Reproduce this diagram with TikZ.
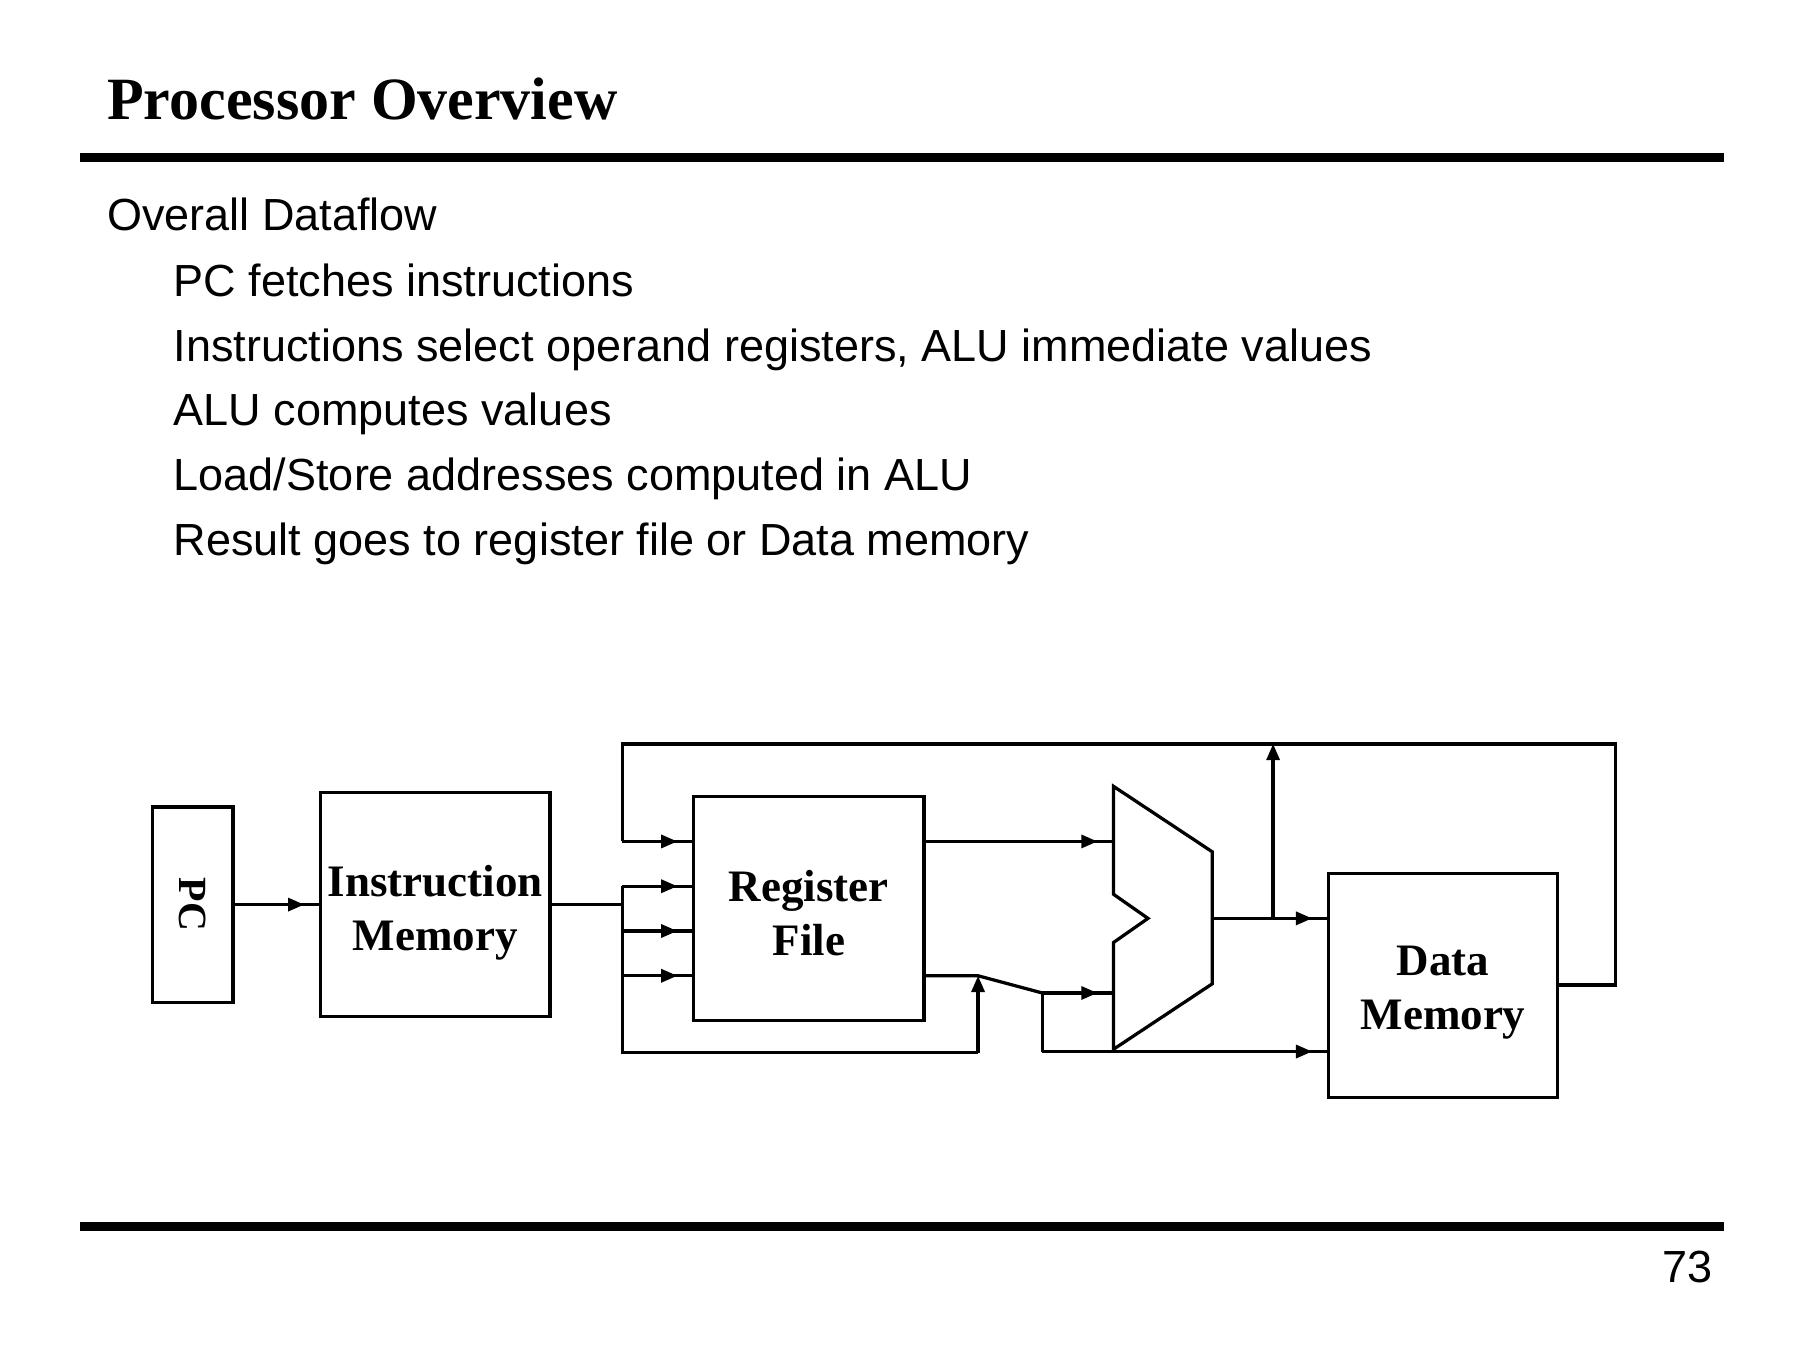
\documentclass[tikz,border=0pt]{standalone}
\usepackage{fontspec}
\setmainfont{Liberation Serif}
\newfontfamily\sansf{Liberation Sans}
\usetikzlibrary{arrows.meta,decorations.markings}
\def\U{0.4592bp}
\tikzset{
  wire/.style={line width=1.3bp, line join=miter},
  box/.style={draw, line width=1.3bp, inner sep=0pt, outer sep=0pt, align=center,
    font=\bfseries\fontsize{18.07}{21.7}\selectfont},
  endarrow/.style={wire, -{Triangle[length=6.5bp,width=5.2bp]}},
  tipped/.style={wire, postaction={decorate}, decoration={markings,
    mark=at position -6.4bp with {\arrow{Triangle[length=6.5bp,width=5.2bp]}}}},
  rule/.style={line width=3.7bp},
  bodytext/.style={anchor=base west, inner sep=0pt, font=\sansf\fontsize{18.07}{21.7}\selectfont},
}
\begin{document}
\begin{tikzpicture}[x=0.4592bp, y=-0.4592bp]
\useasboundingbox (0,0) rectangle (1568,1176);
% header
\node[anchor=base west, inner sep=0pt, font=\bfseries\fontsize{24.09}{28}\selectfont] (title) at (93,104) {Processor Overview};
\draw[rule] (70,137.5) -- (1502,137.5);
\node[bodytext] (l0) at (93,201) {Overall Dataflow};
\node[bodytext] (l1) at (151,258) {PC fetches instructions};
\node[bodytext] (l2) at (151,314.5) {Instructions select operand registers, ALU immediate values};
\node[bodytext] (l3) at (151,371) {ALU computes values};
\node[bodytext] (l4) at (151,427.5) {Load/Store addresses computed in ALU};
\node[bodytext] (l5) at (151,484) {Result goes to register file or Data memory};
\draw[rule] (70,1068.5) -- (1502,1068.5);
\node[anchor=base east, inner sep=0pt, font=\sansf\fontsize{18.07}{21.7}\selectfont] (pg) at (1492,1117) {73};
% boxes
\node[box, minimum width=70*\U, minimum height=170*\U] (pc) at (168,788) {};
\node[rotate=-90, inner sep=0pt, font=\bfseries\fontsize{16.06}{19}\selectfont] (pct) at (168,788) {PC};
\node[box, minimum width=200*\U, minimum height=195*\U] (im) at (379,788) {};
\node[box, draw=none] (imt) at (379,795) {Instruction\\Memory};
\node[box, minimum width=201*\U, minimum height=195*\U] (rf) at (704.5,791.5) {};
\node[box, draw=none] (rft) at (704.5,795) {Register\\File};
\node[box, minimum width=200*\U, minimum height=195*\U] (dm) at (1257,858.5) {};
\node[box, draw=none] (dmt) at (1257,865) {Data\\Memory};
% ALU
\coordinate (alu1) at (970,685);
\coordinate (alu2) at (1056,742);
\coordinate (alu3) at (1056,857);
\coordinate (alu4) at (970,914);
\coordinate (alu5) at (970,821);
\coordinate (alu6) at (1000,800);
\coordinate (alu7) at (970,779);
\draw[wire] (alu1) -- (alu2) -- (alu3) -- (alu4) -- (alu5) -- (alu6) -- (alu7) -- cycle;
\coordinate (ain1) at (970,733);
\coordinate (ain2) at (970,865);
\coordinate (aout) at (1056,800);
% junctions
\coordinate (imo) at (542,788);
\coordinate (b0) at (542,733);
\coordinate (b1) at (542,772);
\coordinate (b2) at (542,811);
\coordinate (b3) at (542,850);
\coordinate (bbot) at (542,917);
\coordinate (btop) at (542,648);
\coordinate (j1) at (852,917);
\coordinate (j2) at (852,850);
\coordinate (j3) at (908,865);
\coordinate (j4) at (908,916);
\coordinate (split) at (1109,800);
\coordinate (splittop) at (1109,648);
\coordinate (r1) at (1407,858);
\coordinate (r2) at (1407,648);
% connectors
\draw[tipped] (pc.east) -- (pc.east -| im.west);
\draw[wire] (im.east |- imo) -- (imo);
\draw[tipped] (b1) -- (b1 -| rf.west);
\draw[tipped] (b2) -- (b2 -| rf.west);
\draw[tipped] (b3) -- (b3 -| rf.west);
\draw[wire] (b1) -- (bbot) -- (j1);
\draw[endarrow] (j1) -- (j2);
\draw[wire] (rf.east |- j2) -- (j2) -- (j3);
\draw[tipped] (j3) -- (ain2);
\draw[wire] (j3) -- (j4);
\draw[tipped] (j4) -- (j4 -| dm.west);
\draw[tipped] (rf.east |- ain1) -- (ain1);
\draw[tipped] (aout) -- (aout -| dm.west);
\draw[endarrow] (split) -- (splittop);
\draw[wire] (dm.east |- r1) -- (r1) -- (r2) -- (btop) -- (b0);
\draw[tipped] (b0) -- (b0 -| rf.west);
\end{tikzpicture}
\end{document}
